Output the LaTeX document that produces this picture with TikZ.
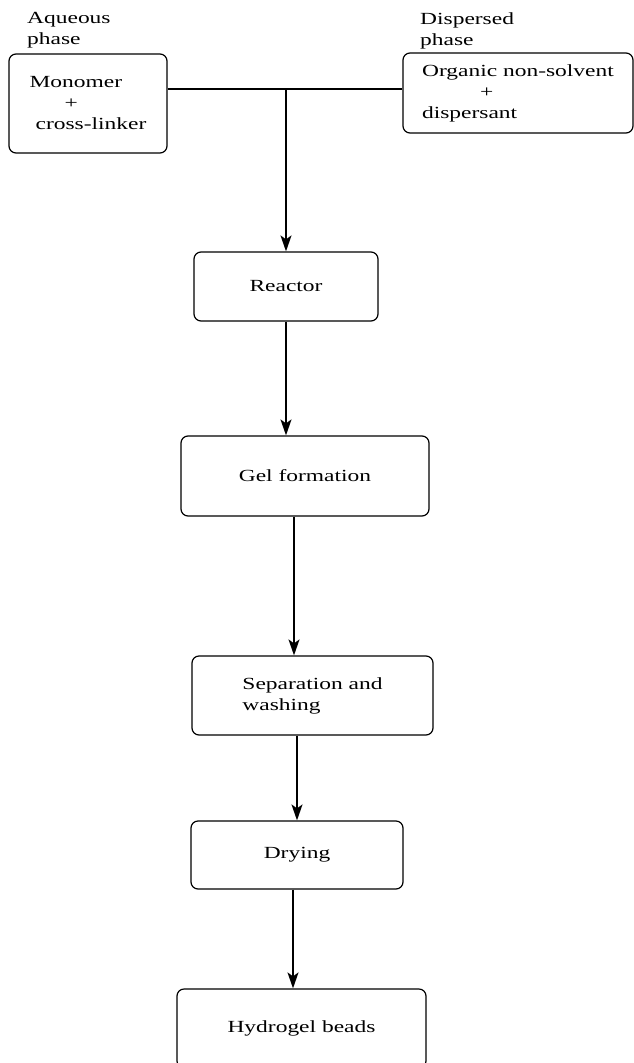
\documentclass[tikz,border=0pt]{standalone}
\usepackage{graphicx}
\usepackage{fontspec}
\setmainfont{Liberation Serif}
\usetikzlibrary{arrows.meta}

% the source lettering is wide
\newcommand{\wtxt}[1]{\scalebox{1.38}[1]{#1}}

\tikzset{
  stepbox/.style={draw, rounded corners=7pt, line width=1.2pt, inner sep=0pt, align=left},
  flow/.style={-{Stealth[length=16pt,width=11pt,inset=4pt]}, line width=1.7pt},
  phase/.style={anchor=north west, inner sep=0pt, align=left}
}

\begin{document}
\begin{tikzpicture}[x=1pt,y=-1pt,font=\fontsize{17}{21}\selectfont]
\useasboundingbox (0,0) rectangle (634,1063);

% phase labels
\node[phase] (aqlabel) at (27,12) {\wtxt{Aqueous}\\\wtxt{phase}};
\node[phase] (displabel) at (420,13) {\wtxt{Dispersed}\\\wtxt{phase}};

% feed boxes
\node[stepbox, minimum width=158pt, minimum height=99pt] (mono) at (88,103.5)
  {\wtxt{Monomer}\\\hspace*{35pt}\wtxt{+}\\\hspace*{6pt}\wtxt{cross-linker}};
\node[stepbox, minimum width=230pt, minimum height=80pt] (organic) at (518,93)
  {\wtxt{Organic non-solvent}\\\hspace*{58pt}\wtxt{+}\\\wtxt{dispersant}};

% process steps
\node[stepbox, minimum width=184pt, minimum height=69pt] (reactor) at (286,286.5) {\wtxt{Reactor}};
\node[stepbox, minimum width=248pt, minimum height=80pt] (gel) at (305,476) {\wtxt{Gel formation}};
\node[stepbox, minimum width=241pt, minimum height=79pt] (sep) at (312.5,695.5) {\wtxt{Separation and}\\\wtxt{washing}};
\node[stepbox, minimum width=212pt, minimum height=68pt] (drying) at (297,855) {\wtxt{Drying}};
\node[stepbox, minimum width=249pt, minimum height=79pt] (beads) at (301.5,1028.5) {\wtxt{Hydrogel beads}};

% feed line
\coordinate (mix) at (286,89);
\draw[line width=1.1pt] (mix -| mono.east) -- (mix -| organic.west);
\draw[flow] (mix) -- (reactor.north);

% arrows down
\draw[flow] (reactor.south) -- (reactor.south |- gel.north);
\draw[flow] ([xshift=-11pt]gel.south) -- ([xshift=-11pt]gel.south |- sep.north);
\draw[flow] (sep.south -| drying.north) -- (drying.north);
\draw[flow] ([xshift=-4pt]drying.south) -- ([xshift=-4pt]drying.south |- beads.north);
\end{tikzpicture}
\end{document}
